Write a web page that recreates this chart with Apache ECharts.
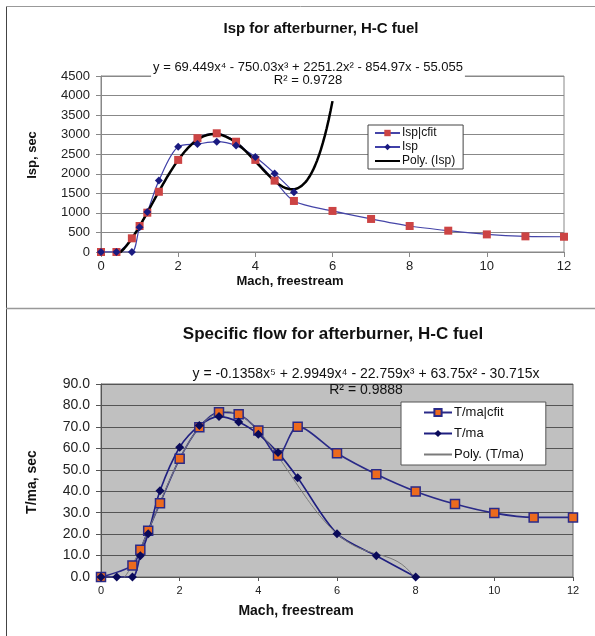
<!DOCTYPE html>
<html>
<head>
<meta charset="utf-8">
<script src="https://cdn.jsdelivr.net/npm/echarts@6/dist/echarts.min.js"></script>
<style>
  html, body { margin: 0; padding: 0; background: #fff; }
  #chart { width: 595px; height: 636px; }
</style>
</head>
<body>
<div id="chart"></div>
<script>
// Isp for afterburner (H-C fuel) vs freestream Mach
const machCfit = [0, 0.4, 0.8, 1, 1.2, 1.5, 2, 2.5, 3, 3.5, 4, 4.5, 5, 6, 7, 8, 9, 10, 11, 12];
const ispCfit  = [0, 0, 350, 665, 1005, 1540, 2355, 2910, 3035, 2820, 2355, 1825, 1305, 1050, 845, 665, 545, 450, 400, 390];
const machIsp  = [0, 0.4, 0.8, 1, 1.2, 1.5, 2, 2.5, 3, 3.5, 4, 4.5, 5];
const isp      = [0, 0, 0, 630, 1020, 1825, 2690, 2760, 2820, 2720, 2430, 2010, 1530];
// Trendline y = 69.449x^4 - 750.03x^3 + 2251.2x^2 - 854.97x - 55.055 (highest power first)
const ispPolyCoef = [69.449, -750.03, 2251.2, -854.97, -55.055];
const ispPolyRange = [0, 6];

// Specific flow T/ma vs freestream Mach
const machTmaCfit = [0, 0.8, 1, 1.2, 1.5, 2, 2.5, 3, 3.5, 4, 4.5, 5, 6, 7, 8, 9, 10, 11, 12];
const tmaCfit     = [0, 5.4, 12.7, 21.6, 34.4, 55.1, 69.8, 76.8, 75.9, 68.3, 56.6, 70.1, 57.7, 47.9, 39.9, 34.0, 29.8, 27.8, 27.8];
const machTma     = [0, 0.4, 0.8, 1, 1.2, 1.5, 2, 2.5, 3, 3.5, 4, 4.5, 5, 6, 7, 8];
const tma         = [0, 0, 0, 9.9, 20.2, 40.2, 60.5, 70.6, 74.8, 72.3, 66.6, 58.0, 46.3, 20.2, 9.9, 0];
// Trendline y = -0.1358x^5 + 2.9949x^4 - 22.759x^3 + 63.75x^2 - 30.715x
const tmaPolyCoef = [-0.1358, 2.9949, -22.759, 63.75, -30.715, 0];
const tmaPolyRange = [0, 8];

const ispEquation = 'y = 69.449x⁴ - 750.03x³ + 2251.2x² - 854.97x - 55.055\nR² = 0.9728';
const tmaEquation = 'y = -0.1358x⁵ + 2.9949x⁴ - 22.759x³ + 63.75x² - 30.715x\nR² = 0.9888';

const pairs = (xs, ys) => xs.map((x, i) => [x, ys[i]]);
function polyCurve(coef, range, step) {
  const pts = [];
  for (let x = range[0]; x <= range[1] + 1e-9; x += step) {
    let y = 0;
    for (const c of coef) y = y * x + c;
    pts.push([+x.toFixed(4), y]);
  }
  return pts;
}

const FONT = '"Liberation Sans", Arial, sans-serif';
const chart = echarts.init(document.getElementById('chart'), null, { renderer: 'canvas' });

const topAxisCommon = {
  axisLine: { show: true, lineStyle: { color: '#888', width: 1 } },
  axisTick: { show: true, inside: false, length: 5, lineStyle: { color: '#888' } },
};

chart.setOption({
  animation: false,
  backgroundColor: '#fff',
  title: [
    { text: 'Isp for afterburner, H-C fuel', left: 316, top: 16, textAlign: 'center',
      textStyle: { fontFamily: FONT, fontSize: 15, fontWeight: 'bold', color: '#111' } },
    { text: 'Specific flow for afterburner, H-C fuel', left: 328, top: 321, textAlign: 'center',
      textStyle: { fontFamily: FONT, fontSize: 17, fontWeight: 'bold', color: '#111' } }
  ],
  grid: [
    { left: 101, top: 76, width: 463, height: 176, show: true, borderColor: '#888', borderWidth: 1, backgroundColor: '#fff' },
    { left: 101, top: 384, width: 472, height: 193, show: true, borderColor: '#666', borderWidth: 1, backgroundColor: '#c0c0c0' }
  ],
  xAxis: [
    Object.assign({ gridIndex: 0, type: 'value', min: 0, max: 12, interval: 2,
      splitLine: { show: false },
      axisLabel: { margin: 8, fontFamily: FONT, fontSize: 13, color: '#222' } }, topAxisCommon),
    { gridIndex: 1, type: 'value', min: 0, max: 12, interval: 2,
      splitLine: { show: false },
      axisLine: { show: true, lineStyle: { color: '#555', width: 1 } },
      axisTick: { show: true, length: 4, lineStyle: { color: '#555' } },
      axisLabel: { margin: 8, fontFamily: FONT, fontSize: 11, color: '#222' } }
  ],
  yAxis: [
    Object.assign({ gridIndex: 0, type: 'value', min: 0, max: 4500, interval: 500,
      splitLine: { show: true, lineStyle: { color: '#888', width: 1 } },
      axisLabel: { margin: 11, fontFamily: FONT, fontSize: 13, color: '#222',
        formatter: v => String(v) } }, topAxisCommon),
    { gridIndex: 1, type: 'value', min: 0, max: 90, interval: 10,
      splitLine: { show: true, lineStyle: { color: '#555', width: 1 } },
      axisLine: { show: true, lineStyle: { color: '#555', width: 1 } },
      axisTick: { show: true, length: 5, lineStyle: { color: '#555' } },
      axisLabel: { margin: 11, fontFamily: FONT, fontSize: 14, color: '#222',
        formatter: v => v.toFixed(1) } }
  ],
  legend: [
    { data: ['Isp|cfit', 'Isp', { name: 'Poly. (Isp)', itemStyle: { opacity: 0 } }],
      orient: 'vertical', left: 368, top: 125,
      itemWidth: 25, itemHeight: 8, itemGap: 2,
      padding: [2, 8, 2, 6], backgroundColor: '#fff', borderColor: '#444', borderWidth: 1,
      textStyle: { fontFamily: FONT, fontSize: 12, color: '#111', padding: [0, 0, 0, -3] } },
    { data: ['T/ma|cfit', 'T/ma', { name: 'Poly. (T/ma)', itemStyle: { opacity: 0 } }],
      orient: 'vertical', left: 401, top: 402,
      itemWidth: 28, itemHeight: 9, itemGap: 8,
      padding: [4, 22, 4, 22], backgroundColor: '#fff', borderColor: '#555', borderWidth: 1,
      textStyle: { fontFamily: FONT, fontSize: 13, color: '#111', padding: [0, 0, 0, -3] } }
  ],
  series: [
    { name: 'Isp|cfit', type: 'line', xAxisIndex: 0, yAxisIndex: 0, smooth: 0.3,
      data: pairs(machCfit, ispCfit), symbol: 'rect', symbolSize: 8,
      lineStyle: { color: '#4545a8', width: 1.2 }, itemStyle: { color: '#cc4444' } },
    { name: 'Isp', type: 'line', xAxisIndex: 0, yAxisIndex: 0, smooth: 0.3,
      data: pairs(machIsp, isp), symbol: 'diamond', symbolSize: 8,
      lineStyle: { color: '#4040a8', width: 1.2 }, itemStyle: { color: '#1a1a80' } },
    { name: 'Poly. (Isp)', type: 'line', xAxisIndex: 0, yAxisIndex: 0, smooth: false,
      data: polyCurve(ispPolyCoef, ispPolyRange, 0.05), symbol: 'none', clip: true,
      lineStyle: { color: '#000', width: 2.5 }, itemStyle: { color: '#000' } },

    { name: 'T/ma|cfit', type: 'line', xAxisIndex: 1, yAxisIndex: 1, smooth: 0.3,
      data: pairs(machTmaCfit, tmaCfit), symbol: 'rect', symbolSize: 9,
      lineStyle: { color: '#2a2a88', width: 1.6 },
      itemStyle: { color: '#ec6a1e', borderColor: '#2a2a88', borderWidth: 1.5 } },
    { name: 'T/ma', type: 'line', xAxisIndex: 1, yAxisIndex: 1, smooth: 0.3,
      data: pairs(machTma, tma), symbol: 'diamond', symbolSize: 9,
      lineStyle: { color: '#1f1f80', width: 1.6 }, itemStyle: { color: '#0a0a5a' } },
    { name: 'Poly. (T/ma)', type: 'line', xAxisIndex: 1, yAxisIndex: 1, smooth: false,
      data: polyCurve(tmaPolyCoef, tmaPolyRange, 0.05), symbol: 'none', clip: true,
      lineStyle: { color: '#7a7a7a', width: 1 }, itemStyle: { color: '#7a7a7a' } }
  ],
  graphic: [
    // page frame and separator between the two charts
    { type: 'line', shape: { x1: 6.5, y1: 6, x2: 6.5, y2: 636 }, style: { stroke: '#444', lineWidth: 1 } },
    { type: 'line', shape: { x1: 6, y1: 6.5, x2: 595, y2: 6.5 }, style: { stroke: '#999', lineWidth: 1 } },
    { type: 'line', shape: { x1: 6, y1: 308.5, x2: 595, y2: 308.5 }, style: { stroke: '#999', lineWidth: 1.5 } },
    // trendline equations
    { type: 'text', x: 308, y: 74, z: 100,
      style: { text: ispEquation, textAlign: 'center', textVerticalAlign: 'middle',
        font: '13px ' + FONT, fill: '#111', lineHeight: 13,
        backgroundColor: '#fff', padding: [1, 2, 1, 2] } },
    { type: 'text', x: 366, y: 382, z: 100,
      style: { text: tmaEquation, textAlign: 'center', textVerticalAlign: 'middle',
        font: '14px ' + FONT, fill: '#111', lineHeight: 16 } },
    // axis titles
    { type: 'text', x: 290, y: 281,
      style: { text: 'Mach, freestream', textAlign: 'center', textVerticalAlign: 'middle',
        font: 'bold 13px ' + FONT, fill: '#111' } },
    { type: 'text', x: 296, y: 611,
      style: { text: 'Mach, freestream', textAlign: 'center', textVerticalAlign: 'middle',
        font: 'bold 14px ' + FONT, fill: '#111' } },
    { type: 'text', x: 32, y: 155, rotation: Math.PI / 2,
      style: { text: 'Isp, sec', textAlign: 'center', textVerticalAlign: 'middle',
        font: 'bold 13px ' + FONT, fill: '#111' } },
    { type: 'text', x: 32, y: 482, rotation: Math.PI / 2,
      style: { text: 'T/ma, sec', textAlign: 'center', textVerticalAlign: 'middle',
        font: 'bold 14px ' + FONT, fill: '#111' } }
  ]
});
</script>
</body>
</html>
